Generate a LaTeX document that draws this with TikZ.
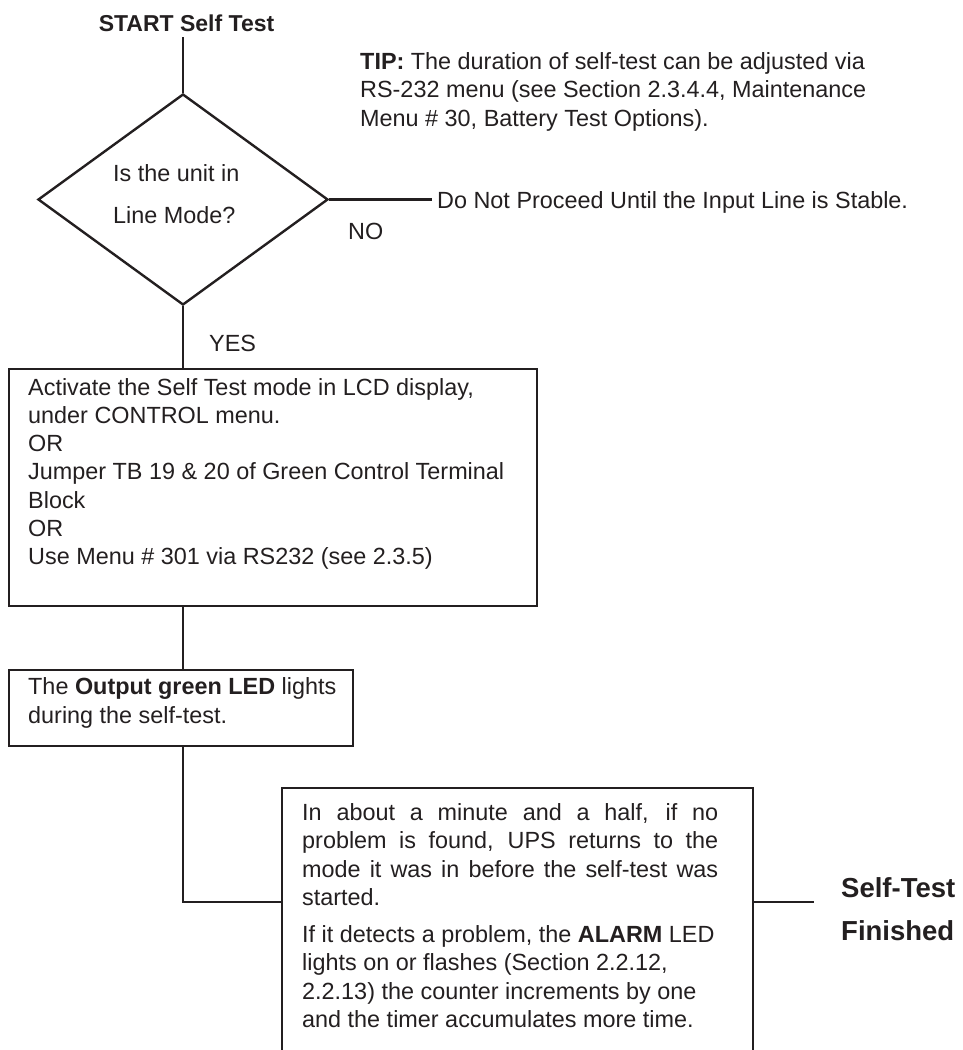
\documentclass[tikz,border=0pt]{standalone}
\usepackage{fontspec}
\setmainfont{Liberation Sans}
\usetikzlibrary{shapes.geometric}
\definecolor{ink}{RGB}{35,31,32}
\begin{document}
\begin{tikzpicture}[x=1pt,y=-1pt,
  txt/.style={font=\fontsize{23.4}{28.4}\selectfont, text=ink, inner sep=0pt, anchor=base west},
  btxt/.style={font=\fontsize{23}{28}\selectfont\bfseries, text=ink, inner sep=0pt},
  bigb/.style={font=\fontsize{27.5}{43}\selectfont\bfseries, text=ink, inner sep=0pt, anchor=base west},
  box/.style={draw=ink, line width=2.4pt, inner sep=0pt, rectangle},
  conn/.style={draw=ink, line width=2.4pt}]
\useasboundingbox (0,0) rectangle (962,1050);

% start
\node[btxt, anchor=base, inner ysep=6pt] (start) at (186.5,31) {START Self Test};

% decision
\node[diamond, draw=ink, line width=2.4pt, minimum width=290pt, minimum height=211pt, inner sep=0pt] (dia) at (183,199.5) {};
\node[txt] (q) at (113,181) {\vtop{\baselineskip=42pt\hbox{Is the unit in}\hbox{Line Mode?}}};
\draw[conn] (start.south -| dia.north) -- (dia.north);

% tip
\node[txt] (tip) at (360,69) {\vtop{\baselineskip=28.5pt
  \hbox{\textbf{TIP:} The duration of self-test can be adjusted via}
  \hbox{RS-232 menu (see Section 2.3.4.4, Maintenance}
  \hbox{Menu \# 30, Battery Test Options).}}};

% NO branch
\node[txt, inner xsep=5pt] (nogo) at (432,208) {Do Not Proceed Until the Input Line is Stable.};
\draw[conn] (dia.east) -- (dia.east -| nogo.west);
\node[txt] (nolab) at (348,239) {NO};
\node[txt] (yeslab) at (209,351) {YES};

% box 1
\node[box, minimum width=528pt, minimum height=237pt] (box1) at (273,487.5) {};
\draw[conn] (dia.south) -- (dia.south |- box1.north);
\node[txt] (t1) at (28,395) {\vtop{\baselineskip=28.3pt
  \hbox{Activate the Self Test mode in LCD display,}
  \hbox{under CONTROL menu.}
  \hbox{OR}
  \hbox{Jumper TB 19 \& 20 of Green Control Terminal}
  \hbox{Block}
  \hbox{OR}
  \hbox{Use Menu \# 301 via RS232 (see 2.3.5)}}};

% box 2
\node[box, minimum width=344pt, minimum height=76pt] (box2) at (181,708) {};
\draw[conn] (dia.south |- box1.south) -- (dia.south |- box2.north);
\node[txt] (t2) at (28,694) {\vtop{\baselineskip=29pt
  \hbox{The \textbf{Output green LED} lights}
  \hbox{during the self-test.}}};

% box 3 (open at the bottom)
\node[inner sep=0pt, minimum width=471pt, minimum height=272pt] (box3) at (517.5,924) {};
\draw[conn] (box3.south west) -- (box3.north west) -- (box3.north east) -- (box3.south east);
\coordinate (j3) at (282,902);
\draw[conn] (dia.south |- box2.south) |- (j3);
\node[txt] (t3) at (302,820) {\vtop{\baselineskip=28.5pt
  \hbox{\makebox[416pt][s]{In about a minute and a half, if no}}
  \hbox{\makebox[416pt][s]{problem is found, UPS returns to the}}
  \hbox{\makebox[416pt][s]{mode it was in before the self-test was}}
  \hbox{started.}
  \vskip 8pt
  \hbox{If it detects a problem, the \textbf{ALARM} LED}
  \hbox{lights on or flashes (Section 2.2.12,}
  \hbox{2.2.13) the counter increments by one}
  \hbox{and the timer accumulates more time.}}};

% finish
\node[bigb] (fin) at (841,897.5) {\vtop{\baselineskip=43pt\hbox{Self-Test}\hbox{Finished}}};
\coordinate (fend) at (814,902);
\draw[conn] (box3.east |- j3) -- (fend);
\end{tikzpicture}
\end{document}
